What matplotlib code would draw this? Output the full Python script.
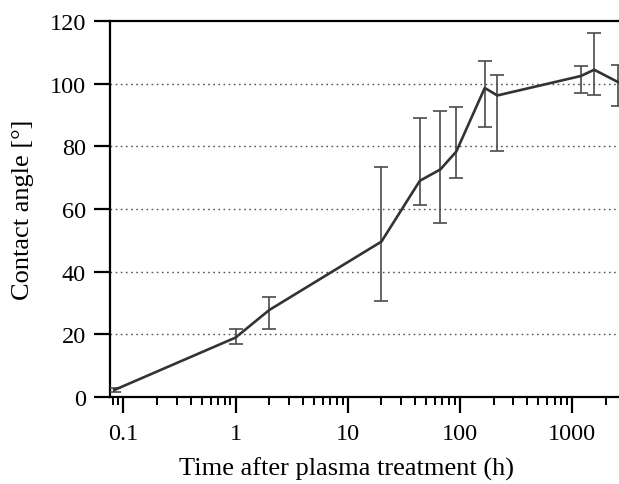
import numpy as np
import matplotlib
matplotlib.use("Agg")
import matplotlib.pyplot as plt
from matplotlib.ticker import FixedLocator, FixedFormatter, LogLocator, NullFormatter

plt.rcParams['font.family'] = ['Liberation Serif', 'DejaVu Serif']

# time after plasma treatment (h)
hours = [0.083, 1, 2, 20, 44, 67, 93, 167, 216, 1200, 1580, 2600]
# contact angle (deg)
angle = [2.3, 19.0, 27.8, 49.6, 69.0, 72.6, 78.3, 98.6, 96.2, 102.4, 104.4, 100.4]
err_low = [0.8, 2.1, 6.1, 18.9, 7.6, 17.2, 8.5, 12.6, 17.8, 5.5, 8.0, 7.4]
err_high = [0.7, 2.7, 4.0, 23.9, 20.0, 18.8, 14.2, 8.7, 6.6, 3.1, 11.8, 5.6]

yticks = [0, 20, 40, 60, 80, 100, 120]
xticks = [0.1, 1, 10, 100, 1000]
xtick_labels = ["0.1", "1", "10", "100", "1000"]

fig = plt.figure(figsize=(6.19, 4.85), dpi=100)
ax = fig.add_axes([0.178, 0.179, 0.822, 0.776])

ax.errorbar(hours, angle, yerr=[err_low, err_high], color="#333333", lw=1.9,
            ecolor="#4a4a4a", elinewidth=1.2, capsize=5, capthick=1.2, zorder=3)

ax.set_xscale("log")
ax.set_xlim(0.0762, 2630)
ax.set_ylim(0, 120)

ax.xaxis.set_major_locator(FixedLocator(xticks))
ax.xaxis.set_major_formatter(FixedFormatter(xtick_labels))
ax.xaxis.set_minor_locator(LogLocator(base=10, subs=np.arange(2, 10)))
ax.xaxis.set_minor_formatter(NullFormatter())
ax.set_yticks(yticks)

for y in yticks[1:-1]:
    ax.axhline(y, color="#555555", lw=1.0, ls=(0, (1.2, 2.5)), zorder=1)

for s in ["left", "bottom", "top"]:
    ax.spines[s].set_linewidth(1.6)
ax.spines["right"].set_visible(False)

ax.tick_params(axis="both", which="major", length=11.5, width=1.6, labelsize=17.5,
               direction="out", pad=6)
ax.tick_params(axis="x", which="minor", length=6, width=1.4, direction="out")
ax.tick_params(axis="x", which="major", pad=7)

ax.set_xlabel("Time after plasma treatment (h)", fontsize=19, labelpad=9)
ax.xaxis.label.set_x(0.464)
ax.set_ylabel("Contact angle [°]", fontsize=19, labelpad=11)

fig.savefig("out.png", dpi=100)
